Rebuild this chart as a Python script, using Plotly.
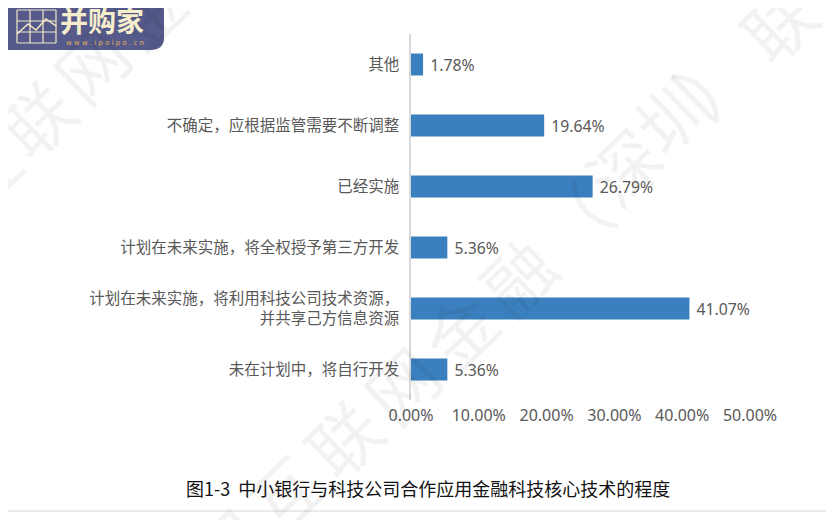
import plotly.graph_objects as go

categories = [
    "未在计划中，将自行开发",
    "计划在未来实施，将利用科技公司技术资源，<br>并共享己方信息资源",
    "计划在未来实施，将全权授予第三方开发",
    "已经实施",
    "不确定，应根据监管需要不断调整",
    "其他",
]
values = [0.0536, 0.4107, 0.0536, 0.2679, 0.1964, 0.0178]
tick_vals = [0, 0.1, 0.2, 0.3, 0.4, 0.5]
title_text = "图1-3  中小银行与科技公司合作应用金融科技核心技术的程度"

FONT = "Noto Sans CJK SC"
NUMFONT = "Noto Sans, Noto Sans CJK SC"
OFF = 8  # page body margin
W, H = 834 - OFF, 520 - OFF
L, T = 411 - OFF, 34 - OFF
PW, PH = 339, 366
R = W - L - PW
B = H - T - PH

def px(x):
    return (x - OFF - L) / PW

def py(y):
    return 1 - (y - OFF - T) / PH

fig = go.Figure(go.Bar(
    y=categories, x=values, orientation="h",
    marker=dict(color="#3B80BE", line=dict(width=0)),
    width=0.36,
    text=values, texttemplate=" %{x:.2%}", textposition="outside",
    textfont=dict(family=NUMFONT, size=16.5, color="#595959"),
    cliponaxis=False,
))

# watermark (faint, diagonal) - decoration, glyph by glyph
wm_font = dict(family=FONT, size=70, color="rgba(0,0,0,0.05)")
wm_glyphs = [
    ("国", 226, 546), ("互", 282, 492), ("联", 342, 437), ("网", 400, 383),
    ("金", 458, 329), ("融", 516, 275), ("（", 572, 220), ("深", 622, 165),
    ("圳", 670, 113), ("）", 713, 76),
    ("互", -20, 170), ("联", 35, 117), ("网", 90, 63), ("金", 146, 10),
    ("联", 777, 22), ("网", 833, -31),
]
for ch, gx, gy in wm_glyphs:
    fig.add_annotation(text=ch, xref="paper", yref="paper", x=px(gx), y=py(gy),
                       xanchor="center", yanchor="middle",
                       showarrow=False, textangle=-44, font=wm_font)

# logo
def pth(points):
    s = ""
    for i, (a, b) in enumerate(points):
        s += ("M" if i == 0 else "L") + f"{px(a):.4f},{py(b):.4f} "
    return s

box = pth([(0, -2), (150, -2)])
box += f"Q{px(164):.4f},{py(-2):.4f} {px(164):.4f},{py(12):.4f} "
box += "L" + f"{px(164):.4f},{py(38):.4f} "
box += f"Q{px(164):.4f},{py(50):.4f} {px(150):.4f},{py(50):.4f} "
box += "L" + f"{px(0):.4f},{py(50):.4f} Z"
fig.add_shape(type="path", xref="paper", yref="paper", path=box,
              fillcolor="#555A8A", line=dict(width=0), layer="above")
for gx in [17, 30, 43, 56]:
    fig.add_shape(type="line", xref="paper", yref="paper",
                  x0=px(gx), x1=px(gx), y0=py(10), y1=py(43),
                  line=dict(color="#F3E9C8", width=1.2), layer="above")
for gy in [10, 21, 32, 43]:
    fig.add_shape(type="line", xref="paper", yref="paper",
                  x0=px(17), x1=px(56), y0=py(gy), y1=py(gy),
                  line=dict(color="#F3E9C8", width=1.2), layer="above")
fig.add_shape(type="path", xref="paper", yref="paper",
              path=pth([(17, 34), (28, 24), (36, 30), (46, 19), (56, 26)]),
              line=dict(color="#F3E9C8", width=1.5), layer="above")
fig.add_annotation(text="<b>并购家</b>", xref="paper", yref="paper",
                   x=px(58), y=py(20), xanchor="left", yanchor="middle", showarrow=False,
                   font=dict(family=FONT, size=28, color="#F6EDCD"))
fig.add_annotation(text="w w w . i p o i p o . c n", xref="paper", yref="paper",
                   x=px(64), y=py(43), xanchor="left", yanchor="middle", showarrow=False,
                   font=dict(family="DejaVu Sans", size=7, color="#E8B25A"))

# caption
fig.add_annotation(text=title_text, xref="paper", yref="paper",
                   x=px(428), y=py(488), xanchor="center", yanchor="middle", showarrow=False,
                   font=dict(family=FONT, size=18, color="#111111"))

# bottom border line
fig.add_shape(type="line", xref="paper", yref="paper",
              x0=px(0), x1=px(834), y0=py(511), y1=py(511),
              line=dict(color="#D6D6D6", width=1))

fig.update_layout(
    width=W, height=H,
    margin=dict(l=L, r=R, t=T, b=B, autoexpand=False),
    paper_bgcolor="white", plot_bgcolor="white",
    showlegend=False,
    font=dict(family=FONT, color="#595959"),
    xaxis=dict(range=[0, 0.5], tickvals=tick_vals, tickformat=".2%",
               showgrid=False, zeroline=False, showline=False,
               tickfont=dict(family=NUMFONT, size=16, color="#595959"),
               ticks="", ticklabelstandoff=4),
    yaxis=dict(range=[-0.5, 5.5], showgrid=False, zeroline=False,
               showline=True, linecolor="#D9D9D9", linewidth=1.5,
               ticks="", ticklabelstandoff=7,
               tickfont=dict(family=FONT, size=15.5, color="#595959")),
)

fig.write_html("out.html")
